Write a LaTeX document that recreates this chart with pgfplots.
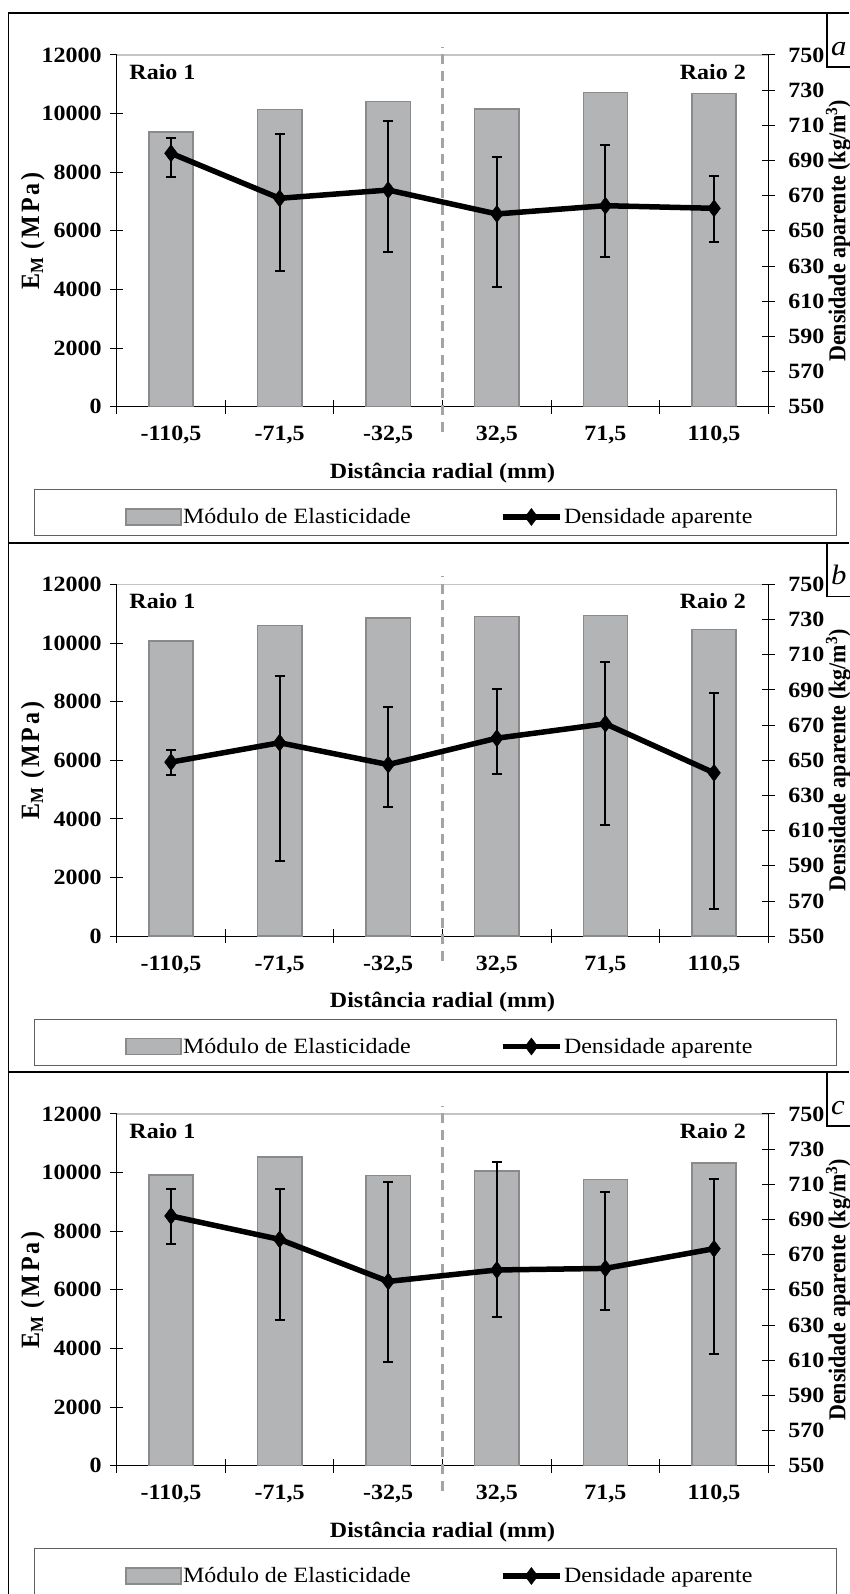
\documentclass[border=0pt]{standalone}
\usepackage{fontspec}
\setmainfont{Liberation Serif}[FakeStretch=1.1]
\newfontfamily\rotfont{Liberation Serif}
\usepackage{pgfplots}
\usepackage{pgfplotstable}
\pgfplotsset{compat=1.18}
\definecolor{barfill}{HTML}{B3B4B6}
\definecolor{bardraw}{HTML}{8A8A8C}
\definecolor{dashc}{HTML}{A4A4A4}
\definecolor{gridc}{HTML}{C4C4C4}
\definecolor{legc}{HTML}{606060}

% Modulo de elasticidade (MPa)
\pgfplotstableread{
x y
0 9375
1 10140
2 10420
3 10160
4 10720
5 10690
}\barsA
\pgfplotstableread{
x y
0 10080
1 10600
2 10865
3 10900
4 10935
5 10465
}\barsB
\pgfplotstableread{
x y
0 9910
1 10525
2 9900
3 10055
4 9770
5 10330
}\barsC
% Densidade aparente (kg/m3): valor, erro +, erro -
\pgfplotstableread{
x y ep em
0 694.1 8.5 13.3
1 668.5 36.6 41.5
2 673.2 39.1 35.4
3 659.6 32.2 41.4
4 664.3 34.3 29.4
5 662.8 18.6 19.0
}\densA
\pgfplotstableread{
x y ep em
0 649.0 7.0 7.2
1 660.0 37.7 67.5
2 647.6 33.0 24.3
3 662.6 27.7 20.5
4 670.8 35.4 57.5
5 642.9 45.5 77.7
}\densB
\pgfplotstableread{
x y ep em
0 692.0 15.3 15.9
1 678.7 28.6 45.7
2 654.8 56.3 46.0
3 661.3 61.6 26.8
4 662.2 43.6 23.9
5 673.4 39.4 59.9
}\densC

\newcommand\fs{\fontsize{21.8}{24}\selectfont}
\pgfplotsset{
  panelbase/.style={
    anchor=south west, scale only axis, width=651.6pt, height=351.7pt,
    xmin=-0.5, xmax=5.5,
    tick align=center, major tick length=13pt, minor tick length=14pt,
    axis line style={line width=1.2pt, black},
    every tick/.style={line width=1pt, black},
    tick label style={font=\fs\bfseries},
    label style={font=\fs\bfseries},
    scaled y ticks=false,
    /pgf/number format/assume math mode=true,
    /pgf/number format/1000 sep={},
  },
  barleg/.style={legend image code/.code={\draw[##1] (0pt,-7.8pt) rectangle (55pt,7.8pt);}},
  lineleg/.style={legend image code/.code={\draw[mark repeat=2,mark phase=2,##1] plot coordinates {(0pt,0pt) (28.5pt,0pt) (57pt,0pt)};}},
}

% #1 letter, #2 panel top (y), #3 axis bottom (y), #4 bars table, #5 density table
\newcommand\panel[5]{%
  \draw[line width=2.2pt] (8.3pt,#2pt) -- (849pt,#2pt);
  \draw[line width=1.3pt] (827pt,#2pt) -- (827pt,{#2pt-53.7pt}) -- (860pt,{#2pt-53.7pt});
  \node[anchor=base west, font=\fontsize{28}{28}\selectfont\itshape, inner sep=0pt] at (831pt,{#2pt-42pt}) {#1};
  \draw[legc, line width=1pt] (34.3pt,{#2pt-476.8pt}) rectangle (836.7pt,{#2pt-522.8pt});
  \begin{axis}[panelbase, at={(116.7pt,#3pt)},
    axis y line*=left, axis x line*=bottom,
    ymin=0, ymax=12000, ytick={0,2000,...,12000},
    yticklabel style={xshift=-5pt},
    xtick={0,...,5},
    xticklabels={{-110,5},{-71,5},{-32,5},{32,5},{71,5},{110,5}},
    major x tick style={draw=none},
    minor xtick={-0.5,0.5,...,5.5},
    xticklabel style={anchor=base, yshift=-27.7pt},
    xlabel={Distância radial (mm)},
    xlabel style={at={(axis description cs:0.5,0)}, anchor=base, yshift=-71.8pt},
    ylabel={\scalebox{1}[1.1]{\rotfont\fontsize{24}{26}\selectfont\bfseries E\textsubscript{M}\kern8pt(\kern3pt M\kern3pt P\kern3pt a\kern3pt)}},
    ylabel style={at={([xshift=-84pt]axis description cs:0,0.5)}, anchor=center},
    clip=false]
    \addplot[ybar, bar width=44.3pt, fill=barfill, draw=bardraw, line width=1.5pt] table[x=x,y=y]{#4};
    \draw[gridc, line width=1.5pt] (axis cs:-0.5,12000) -- (axis cs:5.5,12000);
    \draw[dashc, line width=2.2pt, dash pattern=on 10pt off 6.7pt] (axis cs:2.5,-853) -- (axis cs:2.5,12283);
    \node[anchor=base west, font=\fs\bfseries, inner sep=0pt] at (axis cs:-0.384,11171) {Raio 1};
    \node[anchor=base east, font=\fs\bfseries, inner sep=0pt] at (axis cs:5.295,11171) {Raio 2};
  \end{axis}
  \begin{axis}[panelbase, at={(116.7pt,#3pt)},
    axis y line*=right, axis x line=none,
    ymin=550, ymax=750, ytick={550,570,...,750},
    yticklabel style={xshift=10pt},
    ylabel={\scalebox{1}[1.1]{\rotfont\fontsize{22}{24}\selectfont\bfseries Densidade aparente (kg/m\textsuperscript{3})}},
    ylabel style={at={([xshift=70pt]axis description cs:1,0.5)}, anchor=center},
    legend columns=2,
    legend cell align=left,
    legend style={at={(axis description cs:0.01274,-0.3136)}, anchor=west, draw=none, fill=none,
      inner sep=0pt, font=\fs,
      /tikz/every even column/.append style={column sep=88pt},
      nodes={inner sep=1.35pt}},
    clip=false]
    \addlegendimage{barleg, fill=barfill, draw=bardraw, line width=1.5pt}
    \addlegendentry{Módulo de Elasticidade}
    \addplot[lineleg, black, line width=5.5pt, mark=diamond*, mark size=8.5pt,
      mark options={solid, line width=0.5pt},
      error bars/.cd, y dir=both, y explicit,
      error bar style={line width=2pt},
      error mark options={rotate=90, line width=2pt, mark size=5pt}]
      table[x=x, y=y, y error plus=ep, y error minus=em]{#5};
    \addlegendentry{Densidade aparente}
  \end{axis}
}

\begin{document}
\begin{tikzpicture}
  \panel{a}{1580.8}{1187.3}{\barsA}{\densA}
  \panel{b}{1051.3}{657.8}{\barsB}{\densB}
  \panel{c}{521.8}{128.3}{\barsC}{\densC}
  \draw[line width=1.5pt] (8.3pt,1580.8pt) -- (8.3pt,0pt);
  \pgfresetboundingbox
  \path[use as bounding box] (0pt,0pt) rectangle (849pt,1594pt);
\end{tikzpicture}
\end{document}
